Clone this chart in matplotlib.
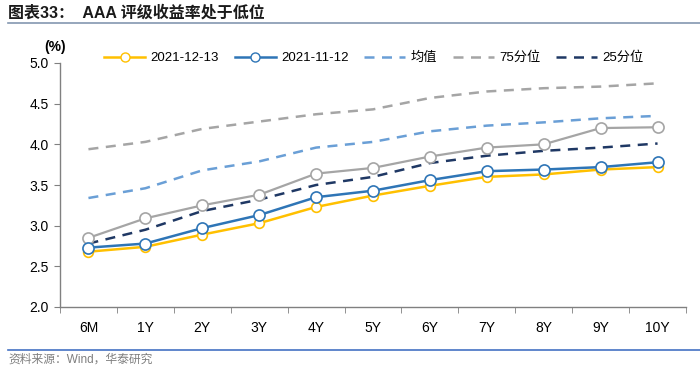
import matplotlib
matplotlib.use("Agg")
import matplotlib.pyplot as plt
from matplotlib.lines import Line2D

plt.rcParams['font.family'] = ['Liberation Sans', 'Noto Sans CJK SC', 'DejaVu Sans']

categories = ["6M", "1Y", "2Y", "3Y", "4Y", "5Y", "6Y", "7Y", "8Y", "9Y", "10Y"]
s_20211213 = [2.68, 2.74, 2.89, 3.03, 3.23, 3.37, 3.49, 3.60, 3.63, 3.69, 3.72]
s_20211112 = [2.73, 2.78, 2.97, 3.13, 3.35, 3.43, 3.56, 3.67, 3.69, 3.72, 3.78]
s_gray = [2.85, 3.09, 3.25, 3.38, 3.64, 3.71, 3.85, 3.96, 4.00, 4.20, 4.21]
s_mean = [3.34, 3.46, 3.68, 3.79, 3.96, 4.03, 4.16, 4.23, 4.27, 4.32, 4.35]
s_p75 = [3.94, 4.03, 4.19, 4.28, 4.37, 4.43, 4.57, 4.65, 4.69, 4.71, 4.75]
s_p25 = [2.78, 2.95, 3.18, 3.32, 3.50, 3.60, 3.77, 3.86, 3.92, 3.96, 4.01]
yticks = [2.0, 2.5, 3.0, 3.5, 4.0, 4.5, 5.0]

W, H = 700, 372
fig = plt.figure(figsize=(7, 3.72), dpi=100)
ax = fig.add_axes([60 / W, (H - 307) / H, (686 - 60) / W, (307 - 63) / H])

x = list(range(len(categories)))
ax.plot(x, s_p75, color='#A5A5A5', lw=1.8, ls=(0, (4, 3)), zorder=2)
ax.plot(x, s_mean, color='#6A9FD6', lw=1.8, ls=(0, (4, 3)), zorder=2)
ax.plot(x, s_p25, color='#1F3864', lw=1.8, ls=(0, (4, 3)), zorder=2)
ax.plot(x, s_gray, color='#A5A5A5', lw=1.6, marker='o', ms=8, mfc='white',
        mec='#A5A5A5', mew=1.2, zorder=3)
ax.plot(x, s_20211213, color='#FFC000', lw=1.8, marker='o', ms=7, mfc='white',
        mec='#FFC000', mew=1.2, zorder=4)
ax.plot(x, s_20211112, color='#2E75B6', lw=1.8, marker='o', ms=8, mfc='white',
        mec='#2E75B6', mew=1.2, zorder=5)

ax.set_xlim(-0.5, len(categories) - 0.5)
ax.set_ylim(2.0, 5.0)
ax.set_yticks(yticks)
ax.set_yticklabels([f"{v:.1f}" for v in yticks], fontsize=10)
ax.set_xticks(x)
ax.set_xticklabels(categories, fontsize=10)
ax.set_xticks([i - 0.5 for i in range(len(categories) + 1)], minor=True)
ax.tick_params(axis='x', which='major', length=0, pad=10)
ax.tick_params(axis='x', which='minor', length=4, color='#808080', direction='out')
ax.tick_params(axis='y', length=4, color='#808080', direction='out', pad=4)
for s in ['top', 'right']:
    ax.spines[s].set_visible(False)
for s in ['left', 'bottom']:
    ax.spines[s].set_color('#808080')
    ax.spines[s].set_linewidth(1.0)

fig.text(55 / W, (H - 47) / H, "(%)", fontsize=10, fontweight='bold', ha='center', va='center')

handles = [
    Line2D([], [], color='#FFC000', lw=1.8, marker='o', ms=6.5, mfc='white', mec='#FFC000'),
    Line2D([], [], color='#2E75B6', lw=1.8, marker='o', ms=6.5, mfc='white', mec='#2E75B6'),
    Line2D([], [], color='#6A9FD6', lw=1.8, ls=(0, (4, 3))),
    Line2D([], [], color='#A5A5A5', lw=1.8, ls=(0, (4, 3))),
    Line2D([], [], color='#1F3864', lw=1.8, ls=(0, (4, 3))),
]
labels = ["2021-12-13", "2021-11-12", "均值", "75分位", "25分位"]
fig.legend(handles, labels, loc='center', bbox_to_anchor=(374 / W, (H - 58) / H),
           ncol=5, frameon=False, fontsize=9.5, handlelength=3.1, columnspacing=1.2,
           handletextpad=0.4, borderpad=0.1)

fig.text(8 / W, (H - 13) / H, "图表33：  AAA 评级收益率处于低位", fontsize=11.5,
         fontweight='bold', ha='left', va='center', color='#1a1a1a',
         family=['Liberation Sans', 'Noto Sans CJK SC'])
fig.add_artist(Line2D([8 / W, 1.0], [(H - 23) / H] * 2, color='#8497B0', lw=1.2))
fig.add_artist(Line2D([8 / W, 1.0], [(H - 350) / H] * 2, color='#4472C4', lw=1.2))
fig.text(8 / W, (H - 360) / H, "资料来源：Wind，华泰研究", fontsize=8.5, color='#7F7F7F',
         ha='left', va='center', family=['Liberation Sans', 'Noto Sans CJK SC'])

fig.savefig("out.png", dpi=100)
